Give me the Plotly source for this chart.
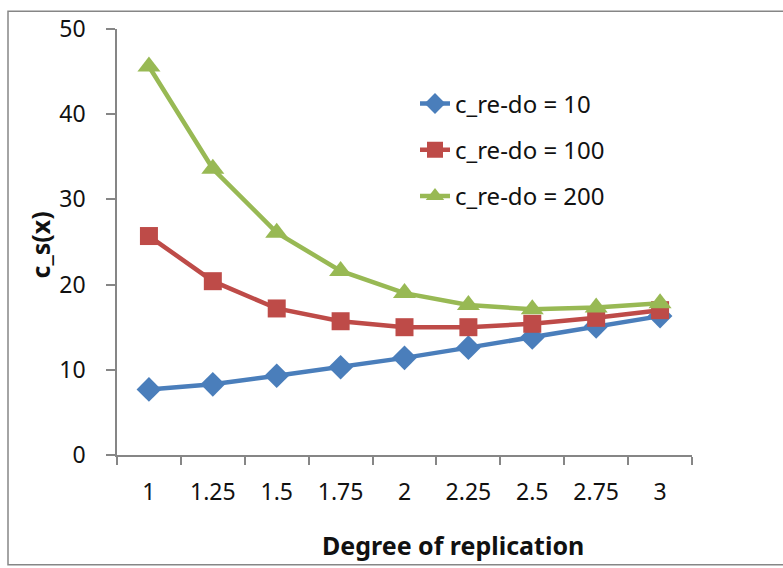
import plotly.graph_objects as go

categories = ["1", "1.25", "1.5", "1.75", "2", "2.25", "2.5", "2.75", "3"]
series_names = ["c_re-do = 10", "c_re-do = 100", "c_re-do = 200"]
redo_10 = [7.7, 8.3, 9.3, 10.3, 11.4, 12.6, 13.8, 15.1, 16.3]
redo_100 = [25.7, 20.4, 17.2, 15.7, 15.0, 15.0, 15.4, 16.1, 17.0]
redo_200 = [45.6, 33.6, 26.1, 21.6, 19.0, 17.6, 17.1, 17.3, 17.8]
y_ticks = [0, 10, 20, 30, 40, 50]

colors = ["#4A7EBB", "#BE4B48", "#98B954"]
symbols = ["diamond", "square", "triangle-up"]
sizes = [19, 18, 20]

FONT = "Noto Sans"

fig = go.Figure()
for i, (name, vals) in enumerate(zip(series_names, [redo_10, redo_100, redo_200])):
    fig.add_trace(go.Scatter(
        x=categories, y=vals, name=name, mode="lines+markers",
        legendgroup=f"g{i}",
        line=dict(color=colors[i], width=4.5),
        marker=dict(symbol=symbols[i], size=sizes[i], color=colors[i]),
    ))

L, R, T, B = 117, 91, 24, 113
W, H = 783, 568
pw, ph = W - L - R, H - T - B

def px(x):
    return (x - L) / pw

def py(y):
    return (H - B - y) / ph

fig.update_layout(
    width=W, height=H,
    margin=dict(l=L, r=R, t=T, b=B, pad=0),
    plot_bgcolor="white", paper_bgcolor="white",
    font=dict(family=FONT, size=23, color="#111111"),
    showlegend=True,
    legend=dict(
        x=px(415), y=py(77), xanchor="left", yanchor="top",
        font=dict(family=FONT, size=24, color="#111111"),
        bgcolor="rgba(0,0,0,0)", tracegroupgap=12,
    ),
    xaxis=dict(
        type="category", range=[-0.5, 8.5],
        showline=True, linecolor="#868686", linewidth=1.5,
        ticks="outside", ticklen=8, tickcolor="#868686", tickwidth=1.5,
        tickson="boundaries", showgrid=False, zeroline=False,
        ticklabelstandoff=16,
        tickfont=dict(family=FONT, size=23, color="#111111"),
    ),
    yaxis=dict(
        range=[0, 50], tickvals=y_ticks,
        showline=True, linecolor="#868686", linewidth=1.5,
        ticks="outside", ticklen=9, tickcolor="#868686", tickwidth=1.5,
        showgrid=False, zeroline=False,
        ticklabelstandoff=16,
        tickfont=dict(family=FONT, size=23, color="#111111"),
    ),
    annotations=[
        dict(text="<b>Degree of replication</b>", xref="paper", yref="paper",
             x=px(453), y=py(546), xanchor="center", yanchor="middle",
             showarrow=False, font=dict(family=FONT, size=25, color="#111111")),
        dict(text="<b>c_s(x)</b>", xref="paper", yref="paper",
             x=px(40), y=py(243), xanchor="center", yanchor="middle",
             textangle=-90, showarrow=False,
             font=dict(family=FONT, size=25, color="#111111")),
    ],
    shapes=[
        dict(type="rect", xref="paper", yref="paper",
             x0=px(8), x1=px(795), y0=py(566), y1=py(6),
             line=dict(color="#868686", width=1.5), layer="below"),
    ],
)

fig.write_html("out.html")
